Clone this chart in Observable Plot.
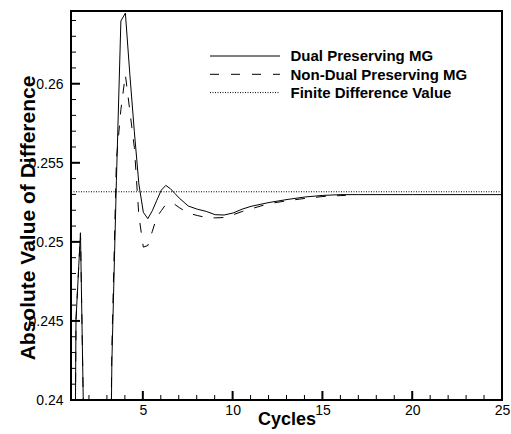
<!DOCTYPE html>
<html><head><meta charset="utf-8">
<script src="https://cdn.jsdelivr.net/npm/d3@7"></script>
<script src="https://cdn.jsdelivr.net/npm/@observablehq/plot@0.6"></script>
<style>body{margin:0;background:#fff;}#chart svg{display:block;}</style>
</head><body><div id="chart"></div>
<script>
// ---- data ----
const dualX = [1.0, 1.25, 1.5, 1.75, 2.0, 2.5, 3.0, 3.25, 3.5, 3.75, 4.0, 4.25, 4.5, 4.75, 5.0, 5.25, 5.5, 5.75, 6.0, 6.25, 6.5, 6.75, 7.0, 7.5, 8.0, 8.5, 9.0, 9.5, 10.0, 10.5, 11, 12, 13, 14, 15, 16, 17, 20, 25];
const dualY = [0.200, 0.2451, 0.2506, 0.2335, 0.215, 0.200, 0.218, 0.2425, 0.2539, 0.2640, 0.2645, 0.2606, 0.2570, 0.2537, 0.2519, 0.2515, 0.2520, 0.25266, 0.2533, 0.2536, 0.2534, 0.2531, 0.2528, 0.2523, 0.2521, 0.25196, 0.25175, 0.25173, 0.25186, 0.2521, 0.25228, 0.25252, 0.25271, 0.25287, 0.25297, 0.25302, 0.25302, 0.25302, 0.25302];
const nonDualX = [1.0, 1.25, 1.5, 1.75, 2.0, 2.5, 3.0, 3.25, 3.5, 3.75, 4.0, 4.25, 4.5, 4.75, 5.0, 5.25, 5.5, 5.75, 6.0, 6.25, 6.5, 6.75, 7.0, 7.5, 8.0, 8.5, 9.0, 9.5, 10.0, 10.5, 11, 12, 13, 14, 15, 16, 16.25];
const nonDualY = [0.200, 0.2451, 0.2506, 0.2335, 0.215, 0.200, 0.218, 0.2435, 0.2552, 0.2584, 0.2606, 0.2583, 0.2560, 0.2517, 0.2497, 0.2498, 0.2507, 0.2516, 0.2520, 0.2524, 0.2525, 0.2524, 0.2522, 0.25185, 0.2517, 0.25157, 0.25155, 0.25157, 0.25175, 0.25195, 0.25212, 0.25245, 0.25263, 0.25278, 0.2529, 0.25296, 0.25297];
const finiteDifferenceValue = 0.2532;
const xDomain = [1, 25];
const yDomain = [0.24, 0.2646];
const xMajorTicks = [5, 10, 15, 20, 25];
const xMinorTicks = [2, 3, 4, 6, 7, 8, 9, 11, 12, 13, 14, 16, 17, 18, 19, 21, 22, 23, 24];
const yMajorTicks = [0.24, 0.245, 0.25, 0.255, 0.26];
const yMinorTicks = [0.241, 0.242, 0.243, 0.244, 0.246, 0.247, 0.248, 0.249, 0.251, 0.252, 0.253, 0.254, 0.256, 0.257, 0.258, 0.259, 0.261, 0.262, 0.263, 0.264];
const legendNames = ["Dual Preserving MG", "Non-Dual Preserving MG", "Finite Difference Value"];
const xLabel = "Cycles";
const yLabel = "Absolute Value of Difference";

// ---- layout ----
const W = 511, H = 434, mL = 71, mR = 9, mT = 11, mB = 34;
const majorLen = 9, minorLen = 5;
const dashes = ["none", "9,12", "1,1.5"];

const dual = dualX.map((x, i) => ({x, y: dualY[i]}));
const nonDual = nonDualX.map((x, i) => ({x, y: nonDualY[i]}));
const font = "Liberation Sans";

const svg = Plot.plot({
  width: W, height: H,
  marginLeft: mL, marginRight: mR, marginTop: mT, marginBottom: mB,
  style: {fontFamily: font, fontSize: "14px", color: "black"},
  x: {domain: xDomain},
  y: {domain: yDomain},
  marks: [
    Plot.ruleY([finiteDifferenceValue], {stroke: "black", strokeWidth: 1, strokeDasharray: dashes[2]}),
    Plot.line(nonDual, {x: "x", y: "y", stroke: "black", strokeWidth: 1, strokeDasharray: dashes[1], clip: true}),
    Plot.line(dual, {x: "x", y: "y", stroke: "black", strokeWidth: 1, clip: true}),
    Plot.axisX({ticks: xMajorTicks, tickSize: 0, tickPadding: 5, label: null, fontSize: 14, tickFormat: d => String(d)}),
    Plot.axisY({ticks: yMajorTicks, tickSize: 0, tickPadding: 8, label: null, fontSize: 14, tickFormat: d => String(d)}),
    Plot.text([xLabel], {frameAnchor: "bottom", dy: 19, textAnchor: "middle", lineAnchor: "middle", text: d => d, fontSize: 18, fontWeight: "bold"}),
    Plot.text([yLabel], {frameAnchor: "left", dx: -43, dy: 12, rotate: -90, textAnchor: "middle", lineAnchor: "middle", text: d => d, fontSize: 21, fontWeight: "bold"})
  ]
});

// legend inside the plot area
const lg = d3.select(svg).append("g").attr("font-family", font).attr("font-size", 15)
  .attr("font-weight", "bold").attr("text-anchor", "start");
legendNames.forEach((name, i) => {
  const y = 56 + i * 18.3;
  lg.append("line").attr("x1", 210).attr("x2", 280).attr("y1", y).attr("y2", y)
    .attr("stroke", "#000").attr("stroke-width", 1).attr("stroke-dasharray", dashes[i]);
  lg.append("text").attr("x", 290.5).attr("y", y).attr("dy", "0.36em").attr("fill", "#000").text(name);
});

// frame and inward ticks, positioned through Plot's own scales
const sx = svg.scale("x"), sy = svg.scale("y");
const x0 = sx.apply(xDomain[0]), x1 = sx.apply(xDomain[1]);
const y0 = sy.apply(yDomain[0]), y1 = sy.apply(yDomain[1]);
const g = d3.select(svg).append("g").attr("stroke", "#000").attr("fill", "none");
xMinorTicks.forEach(v => g.append("line").attr("x1", sx.apply(v)).attr("x2", sx.apply(v)).attr("y1", y0).attr("y2", y0 - minorLen).attr("stroke", "#000").attr("stroke-width", 1));
xMajorTicks.forEach(v => g.append("line").attr("x1", sx.apply(v)).attr("x2", sx.apply(v)).attr("y1", y0).attr("y2", y0 - majorLen).attr("stroke", "#000").attr("stroke-width", 2));
yMinorTicks.forEach(v => g.append("line").attr("y1", sy.apply(v)).attr("y2", sy.apply(v)).attr("x1", x0).attr("x2", x0 + minorLen).attr("stroke", "#000").attr("stroke-width", 1));
yMajorTicks.forEach(v => g.append("line").attr("y1", sy.apply(v)).attr("y2", sy.apply(v)).attr("x1", x0).attr("x2", x0 + majorLen).attr("stroke", "#000").attr("stroke-width", 2));
g.append("rect").attr("x", x0).attr("y", y1).attr("width", x1 - x0).attr("height", y0 - y1).attr("stroke", "#000").attr("stroke-width", 2);

document.getElementById("chart").appendChild(svg);
</script>
</body></html>
